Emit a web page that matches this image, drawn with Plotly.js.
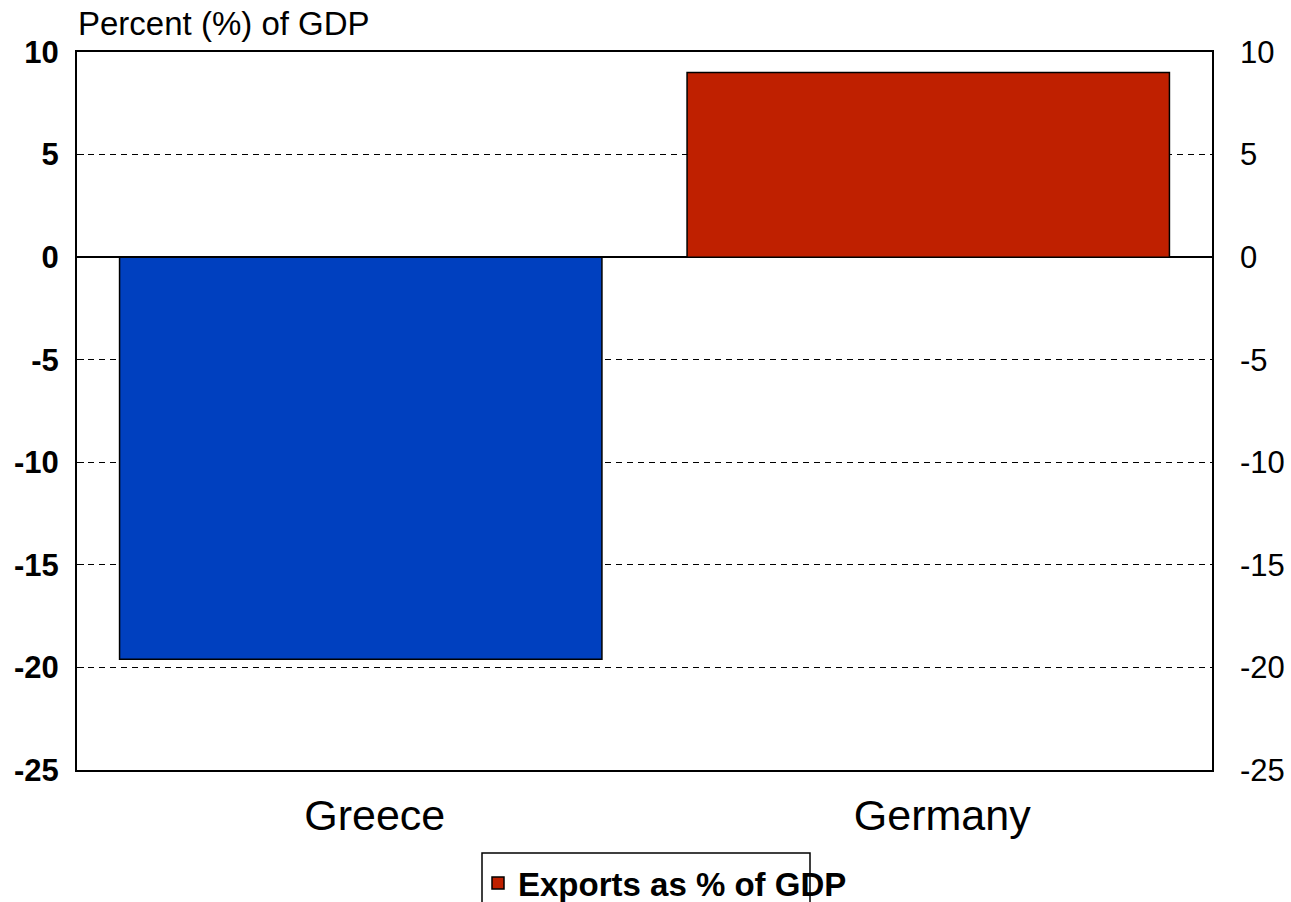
<!DOCTYPE html>
<html>
<head>
<meta charset="utf-8">
<script src="https://cdn.plot.ly/plotly-3.0.1.min.js"></script>
<style>html,body{margin:0;padding:0;background:#fff;}#chart{width:1291px;height:902px;}</style>
</head>
<body>
<div id="chart"></div>
<script>
const countries = ["Greece", "Germany"];
const values = [-19.6, 9.0];
const barColors = ["#0040BF", "#BF2000"];
const seriesName = "Exports as % of GDP";
const yTickVals = [10, 5, 0, -5, -10, -15, -20, -25];
const yTitle = "Percent (%) of GDP";

const FONT = "Arial, 'Liberation Sans', sans-serif";

const traces = [
  {
    type: "bar",
    x: [countries[0]],
    y: [values[0]],
    marker: {color: barColors[0], line: {color: "#000", width: 1.5}},
    showlegend: false,
    hoverinfo: "skip"
  },
  {
    type: "bar",
    x: [countries[1]],
    y: [values[1]],
    name: seriesName,
    marker: {color: barColors[1], line: {color: "#000", width: 1.5}},
    hoverinfo: "skip"
  },
  {
    type: "scatter",
    x: countries,
    y: values,
    yaxis: "y2",
    mode: "markers",
    marker: {opacity: 0},
    showlegend: false,
    hoverinfo: "skip"
  }
];

const layout = {
  width: 1291,
  height: 902,
  paper_bgcolor: "#fff",
  plot_bgcolor: "#fff",
  margin: {l: 77, r: 79, t: 52, b: 132, pad: 0},
  barmode: "overlay",
  bargap: 0.15,
  font: {family: FONT, color: "#000"},
  title: {
    text: yTitle,
    font: {family: FONT, size: 33, color: "#000"},
    x: 78 / 1291, xref: "container", xanchor: "left",
    y: 1 - 23 / 902, yref: "container", yanchor: "middle"
  },
  xaxis: {
    type: "category",
    categoryorder: "array",
    categoryarray: countries,
    showline: true, linecolor: "#000", linewidth: 2, mirror: true,
    ticks: "",
    showgrid: false,
    automargin: false,
    tickfont: {family: FONT, size: 43, color: "#000"},
    ticklabelshift: 14,
    ticklabelstandoff: 6
  },
  yaxis: {
    range: [-25, 10],
    tickvals: yTickVals,
    ticktext: yTickVals.map(String),
    automargin: false,
    showline: true, linecolor: "#000", linewidth: 2, mirror: true,
    ticks: "inside", ticklen: 7, tickcolor: "#000", tickwidth: 1,
    showgrid: true, gridcolor: "#000", gridwidth: 1, griddash: "6px,5px",
    zeroline: true, zerolinecolor: "#000", zerolinewidth: 2,
    tickfont: {family: FONT, size: 31, color: "#000", weight: "bold"},
    ticklabelstandoff: 10
  },
  yaxis2: {
    range: [-25, 10],
    overlaying: "y",
    side: "right",
    automargin: false,
    tickvals: yTickVals,
    ticktext: yTickVals.map(String),
    showgrid: false, zeroline: false, showline: false,
    ticks: "",
    tickfont: {family: FONT, size: 31, color: "#000"},
    ticklabelstandoff: 27
  },
  showlegend: true,
  legend: {
    orientation: "h",
    xref: "container", yref: "container",
    x: 478 / 1291, xanchor: "left",
    y: 1 - 883 / 902, yanchor: "middle",
    bgcolor: "rgba(0,0,0,0)",
    borderwidth: 0,
    font: {family: FONT, size: 33, color: "#000", weight: "bold"}
  },
  shapes: [
    {
      type: "rect", xref: "paper", yref: "paper",
      x0: (482 - 77) / 1135, x1: (810 - 77) / 1135,
      y0: (770 - 853) / 718, y1: (770 - 910) / 718,
      line: {color: "#000", width: 1.5},
      fillcolor: "rgba(0,0,0,0)",
      layer: "above"
    }
  ]
};

Plotly.newPlot("chart", traces, layout, {staticPlot: true, displayModeBar: false});
</script>
</body>
</html>
